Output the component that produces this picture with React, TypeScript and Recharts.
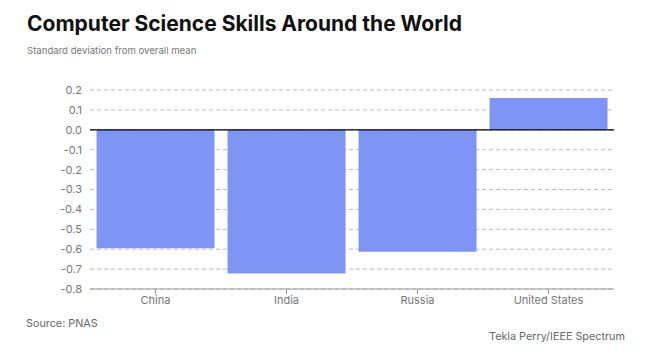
import { BarChart, Bar, XAxis, YAxis, CartesianGrid, ReferenceLine } from "recharts";

const countries = ["China", "India", "Russia", "United States"];
const deviations = [-0.595, -0.722, -0.613, 0.16];
const yTicks = [0.2, 0.1, 0.0, -0.1, -0.2, -0.3, -0.4, -0.5, -0.6, -0.7, -0.8];

const data = countries.map((country, i) => ({ country, value: deviations[i] }));

const font = "Inter, 'Open Sans', sans-serif";

export default function App() {
  return (
    <div
      style={{
        position: "fixed",
        left: 0,
        top: 0,
        width: 646,
        height: 354,
        background: "#fff",
        fontFamily: font,
      }}
    >
      <div
        style={{
          position: "absolute",
          left: 27,
          top: 11,
          fontSize: 21,
          fontWeight: 700,
          color: "#111",
          whiteSpace: "nowrap",
        }}
      >
        Computer Science Skills Around the World
      </div>
      <div
        style={{
          position: "absolute",
          left: 27,
          top: 45,
          fontSize: 9.6,
          color: "#777",
          whiteSpace: "nowrap",
        }}
      >
        Standard deviation from overall mean
      </div>
      <div style={{ position: "absolute", left: 0, top: 0 }}>
        <BarChart
          width={646}
          height={354}
          data={data}
          margin={{ top: 90, right: 32, bottom: 35, left: 0 }}
          barCategoryGap="5%"
        >
          <CartesianGrid
            vertical={false}
            stroke="#bbb"
            strokeDasharray="4 3"
          />
          <XAxis
            dataKey="country"
            height={30}
            axisLine={{ stroke: "#999" }}
            tickLine={{ stroke: "#999" }}
            tickSize={5}
            tick={{ fill: "#777", fontSize: 11, fontFamily: font }}
          />
          <YAxis
            width={90}
            domain={[-0.8, 0.2]}
            ticks={yTicks}
            interval={0}
            axisLine={false}
            tickLine={false}
            tickFormatter={(v: number) => v.toFixed(1)}
            tick={{ fill: "#777", fontSize: 11, fontFamily: font }}
          />
          <Bar dataKey="value" fill="#7e95f6" isAnimationActive={false} />
          <ReferenceLine y={0} stroke="#000" strokeWidth={1.2} />
        </BarChart>
      </div>
      <div
        style={{
          position: "absolute",
          left: 26,
          top: 317,
          fontSize: 10.8,
          color: "#666",
          whiteSpace: "nowrap",
        }}
      >
        Source: PNAS
      </div>
      <div
        style={{
          position: "absolute",
          left: 489,
          top: 330,
          fontSize: 10.8,
          color: "#666",
          whiteSpace: "nowrap",
        }}
      >
        Tekla Perry/IEEE Spectrum
      </div>
    </div>
  );
}
